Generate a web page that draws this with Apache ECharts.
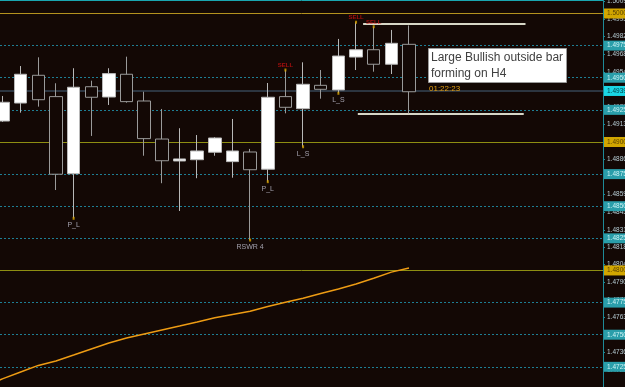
<!DOCTYPE html>
<html><head><meta charset="utf-8">
<script src="https://cdn.jsdelivr.net/npm/echarts@6/dist/echarts.min.js"></script>
<style>html,body{margin:0;padding:0;background:#130805}#c{width:625px;height:387px}</style>
</head><body><div id="c"></div>
<script>
// ---- data (bar index, prices) ----
const barIndex = [0,1,2,3,4,5,6,7,8,9,10,11,12,13,14,15,16,17,18,19,20,21,22,23];
const opens  = [1.49163,1.49303,1.49519,1.49353,1.48753,1.49430,1.49350,1.49527,1.49319,1.49023,1.48852,1.48862,1.48920,1.48847,1.48922,1.48788,1.49353,1.49259,1.49441,1.49405,1.49661,1.49718,1.49605,1.49760];
const closes = [1.49309,1.49527,1.49329,1.48749,1.49426,1.49348,1.49532,1.49314,1.49026,1.48854,1.48868,1.48930,1.49031,1.48930,1.48784,1.49348,1.49270,1.49449,1.49410,1.49669,1.49718,1.49605,1.49768,1.49391];
const lows   = [1.49156,1.49228,1.49275,1.48626,1.48406,1.49047,1.49288,1.49306,1.48893,1.48679,1.48463,1.48718,1.48893,1.48722,1.48237,1.48691,1.49223,1.48963,1.49337,1.49379,1.49560,1.49547,1.49529,1.49223];
const highs  = [1.49358,1.49591,1.49659,1.49457,1.49574,1.49477,1.49574,1.49664,1.49391,1.49257,1.49107,1.49054,1.49037,1.49179,1.48946,1.49459,1.49560,1.49620,1.49560,1.49802,1.49932,1.49897,1.49872,1.49907];

const maIndex  = [-1,0,1,2,3,4,5,6,7,8,9,10,11,12,13,14,15,16,17,18,19,20,21,22,23];
const maValues = [1.47100,1.47158,1.47210,1.47261,1.47296,1.47342,1.47389,1.47436,1.47475,1.47506,1.47537,1.47567,1.47599,1.47632,1.47658,1.47683,1.47720,1.47752,1.47784,1.47820,1.47856,1.47895,1.47940,1.47987,1.48019];

const tickValues = [1.50095,1.49955,1.49820,1.49685,1.49545,1.49410,1.49270,1.49135,1.49000,1.48865,1.48725,1.48590,1.48455,1.48315,1.48180,1.48045,1.47905,1.47770,1.47635,1.47500,1.47360,1.47225];

const quarterLevels = [1.49750,1.49500,1.49250,1.48750,1.48500,1.48250,1.47750,1.47500,1.47250];
const roundLevels   = [1.50000,1.49000,1.48000];
const topLevel      = 1.50100;
const bidPrice      = 1.49397;

// box range lines [startIndex, endIndex, price]
const rangeLines = [[20.4,29.6,1.49918],[20.1,29.5,1.49223]];

// signal markers
const sigIndex = [4,14,15,17,19,16,20,21];
const sigPrice = [1.48406,1.48237,1.48691,1.48963,1.49379,1.49560,1.49932,1.49897];
const sigText  = ['P_L','RSWR 4','P_L','L_S','L_S','SELL','SELL','SELL'];
const sigAbove = [false,false,false,false,false,true,true,true];

const noteText  = ['Large Bullish outside bar','forming on H4'];
const timerText = '01:22:23';

// ---- chart ----
const fmt = v => Number(v).toFixed(5);
const lblBase = {show:true, position:'end', distance:1, fontSize:6.5, fontFamily:'Liberation Sans', padding:[2,3,1,3], formatter: p => fmt(p.value)};

const markData = [];
markData.push({yAxis: topLevel, lineStyle:{color:'#1aa6b0', type:'solid', width:1}, label:{show:false}});
quarterLevels.forEach(v => markData.push({yAxis:v,
  lineStyle:{color:'#1e7e94', type:[2,2], width:1},
  label:Object.assign({}, lblBase, {backgroundColor:'#2a9eaa', color:'#cdf3f5'})}));
roundLevels.forEach((v,i) => markData.push({yAxis:v,
  lineStyle:{color: i===0 ? '#b4921e' : '#8e8e12', type:'solid', width:1},
  label:Object.assign({}, lblBase, {backgroundColor:'#d2a600', color:'#5a4200'})}));
markData.push({yAxis:bidPrice, lineStyle:{color:'#2c3540', type:'solid', width:2},
  label:Object.assign({}, lblBase, {backgroundColor:'#1ad6e4', color:'#00434a'})});
rangeLines.forEach(r => markData.push([
  {coord:[r[0], r[2]], lineStyle:{color:'#d6d6c6', type:'solid', width:2}, label:{show:false}},
  {coord:[r[1], r[2]]}
]));

const chart = echarts.init(document.getElementById('c'), null, {renderer:'canvas'});
chart.setOption({
  animation:false,
  backgroundColor:'#130805',
  grid:{left:0, right:22, top:0, bottom:0, containLabel:false, outerBoundsMode:'none'},
  xAxis:{type:'value', min:-0.17, max:33.99, show:false, splitLine:{show:false}},
  yAxis:{type:'value', position:'right', min:1.47093, max:1.50105, scale:true,
    axisLine:{show:true, onZero:false, lineStyle:{color:'#1e8a98', width:1}},
    axisTick:{show:true, length:2, customValues:tickValues, lineStyle:{color:'#1e8a98'}},
    axisLabel:{show:true, customValues:tickValues, formatter:v=>fmt(v), color:'#b6ccd4', fontSize:6.5, margin:4, fontFamily:'Liberation Sans'},
    splitLine:{show:false}},
  series:[
    {type:'candlestick', z:3, barWidth:13,
     data: barIndex.map((x,i)=>[x, opens[i], closes[i], lows[i], highs[i]]),
     encode:{x:0, y:[1,2,3,4]},
     itemStyle:{color:'#ffffff', color0:'#130805', borderColor:'#b8b8b8', borderColor0:'#9a9a9a', borderWidth:1},
     markLine:{silent:true, precision:5, symbol:['none','none'], z:1, data:markData}},
    {type:'line', z:4, symbol:'none', clip:true,
     data: maIndex.map((x,i)=>[x, maValues[i]]),
     lineStyle:{color:'#ee9c14', width:1.5}},
    {type:'scatter', z:5, symbol:'rect', symbolSize:[2,3],
     itemStyle:{color:'#d8a400'},
     data: sigIndex.map((x,i)=>({value:[x, sigPrice[i]],
       label:{show:true, formatter:sigText[i], position: sigAbove[i] ? 'top' : 'bottom',
         distance: sigAbove[i] ? 0 : 2,
         fontSize: sigAbove[i] ? 6 : 7, fontWeight: sigAbove[i] ? 'bold' : 'normal',
         fontFamily:'Liberation Sans',
         color: sigAbove[i] ? '#c81010' : '#c4c4d4'}}))}
  ],
  graphic:[
    {type:'rect', left:428, top:48, z:10, shape:{width:138, height:34},
     style:{fill:'#ffffff', stroke:'#9a9a9a', lineWidth:1}},
    {type:'text', left:431, top:50, z:11,
     style:{text:noteText.join('\n'), fill:'#404040', font:'12px "Liberation Sans"', lineHeight:16}},
    {type:'text', left:429, top:85, z:11,
     style:{text:timerText, fill:'#e4a012', font:'8px "Liberation Sans"'}}
  ]
});
</script></body></html>
